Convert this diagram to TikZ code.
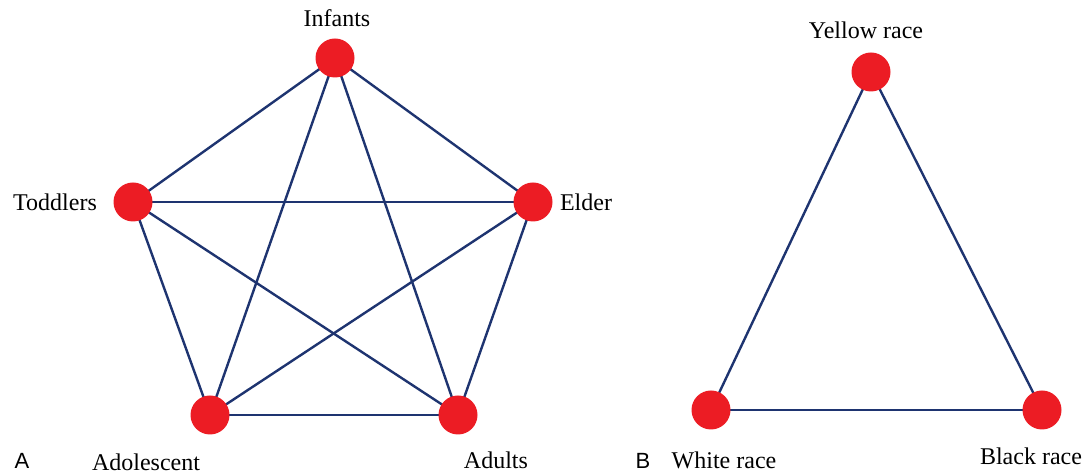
\documentclass[tikz,border=0pt]{standalone}
\usepackage{fontspec}
\setmainfont{Liberation Serif}
\newfontfamily\panelfont{Liberation Sans}
\usetikzlibrary{positioning,backgrounds}
\definecolor{edgeblue}{RGB}{30,52,112}
\definecolor{dotred}{RGB}{236,28,36}

\begin{document}
\begin{tikzpicture}[
  x=0.5pt,
  y=-0.5pt,
  dot/.style={circle, fill=dotred, minimum size=19.5pt, inner sep=0pt},
  grouplabel/.style={font=\fontsize{12}{14}\selectfont, inner sep=0pt},
  panel/.style={font=\panelfont\fontsize{11}{13}\selectfont, inner sep=0pt},
  edge/.style={draw=edgeblue, line width=1.2pt}
]
\useasboundingbox (0,0) rectangle (1083,474);
% panel A: age groups
\node[dot] (inf) at (335,58) {};
\node[dot] (tod) at (133,202) {};
\node[dot] (eld) at (533,202) {};
\node[dot] (ado) at (210,415) {};
\node[dot] (adu) at (458,415) {};
\node[grouplabel] (infl) at (337,18) {Infants};
\node[grouplabel] (todl) at (55,202) {Toddlers};
\node[grouplabel] (eldl) at (586,202) {Elder};
\node[grouplabel] (adol) at (146,462) {Adolescent};
\node[grouplabel] (adul) at (496,460) {Adults};
\node[panel] (pa) at (22,461) {A};
% panel B: races
\node[dot] (yel) at (871,72) {};
\node[dot] (whi) at (711,410) {};
\node[dot] (bla) at (1042,410) {};
\node[grouplabel] (yell) at (866,30) {Yellow race};
\node[grouplabel] (whil) at (724,460) {White race};
\node[grouplabel] (blal) at (1031,456) {Black race};
\node[panel] (pb) at (643,461) {B};
\begin{scope}[on background layer]
\foreach \a/\b in {inf/tod,inf/eld,inf/ado,inf/adu,tod/eld,tod/ado,tod/adu,eld/ado,eld/adu,ado/adu}
  \draw[edge] (\a.center) -- (\b.center);
\foreach \a/\b in {yel/whi,yel/bla,whi/bla}
  \draw[edge] (\a.center) -- (\b.center);
\end{scope}
\end{tikzpicture}
\end{document}
